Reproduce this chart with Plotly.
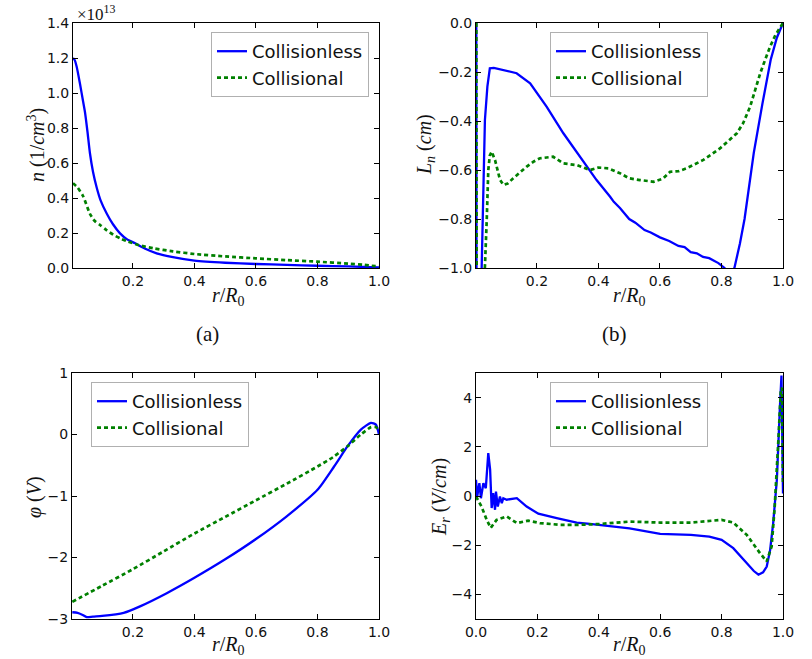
import plotly.graph_objects as go

W, H = 812, 659

# ---------------- data ----------------
# (a) density n (units of 1e13 1/cm^3)
a_x_less = [0.005, 0.01, 0.017, 0.028, 0.038, 0.044, 0.052, 0.060, 0.070, 0.082, 0.095, 0.115, 0.135,
            0.158, 0.18, 0.207, 0.24, 0.277, 0.33, 0.40, 0.5, 0.6, 0.7, 0.8, 0.9, 1.0]
a_y_less = [1.20, 1.19, 1.15, 1.05, 0.95, 0.89, 0.78, 0.657, 0.55, 0.46, 0.385, 0.31, 0.25,
            0.198, 0.165, 0.141, 0.11, 0.084, 0.062, 0.042, 0.03, 0.023, 0.018, 0.013, 0.009, 0.003]
a_x_col = [0.005, 0.02, 0.038, 0.06, 0.075, 0.093, 0.115, 0.136, 0.16, 0.185, 0.22, 0.265, 0.33,
           0.4, 0.5, 0.6, 0.7, 0.8, 0.9, 0.95, 1.0]
a_y_col = [0.484, 0.46, 0.41, 0.31, 0.27, 0.246, 0.215, 0.19, 0.168, 0.15, 0.13, 0.113, 0.095,
           0.08, 0.066, 0.055, 0.045, 0.036, 0.025, 0.018, 0.008]

# (b) L_n (cm)
b_x_less = [0.003, 0.005, 0.0205, 0.026, 0.031, 0.039, 0.047, 0.06, 0.091, 0.134, 0.178, 0.232, 0.286,
            0.34, 0.394, 0.438, 0.45, 0.47, 0.5, 0.52, 0.55, 0.57, 0.6, 0.63, 0.66, 0.68, 0.7, 0.72,
            0.74, 0.76, 0.79, 0.81, 0.825, 0.842, 0.86, 0.875, 0.89, 0.905, 0.933, 0.96, 0.98, 1.0]
b_y_less = [0.0, -3.0, -0.995, -0.668, -0.396, -0.26, -0.185, -0.183, -0.192, -0.205, -0.246, -0.342, -0.45,
            -0.546, -0.641, -0.709, -0.73, -0.755, -0.80, -0.815, -0.845, -0.855, -0.875, -0.89, -0.91, -0.915, -0.935, -0.94,
            -0.955, -0.96, -0.98, -1.0, -1.03, -1.0, -0.90, -0.80, -0.66, -0.53, -0.33, -0.15, -0.06, 0.0]
b_x_col = [0.003, 0.006, 0.028, 0.031, 0.037, 0.042, 0.047, 0.053, 0.064, 0.08, 0.091, 0.105, 0.123,
           0.145, 0.167, 0.19, 0.21, 0.253, 0.286, 0.33, 0.373, 0.4, 0.432, 0.47, 0.5, 0.535, 0.579,
           0.61, 0.633, 0.66, 0.687, 0.741, 0.795, 0.85, 0.87, 0.893, 0.91, 0.926, 0.942, 0.958, 0.975,
           0.991, 1.0]
b_y_col = [0.0, -3.0, -1.05, -0.995, -0.80, -0.6, -0.54, -0.525, -0.56, -0.64, -0.661, -0.655, -0.634,
           -0.61, -0.586, -0.565, -0.552, -0.546, -0.573, -0.58, -0.6, -0.59, -0.593, -0.613, -0.634, -0.641, -0.648,
           -0.635, -0.607, -0.605, -0.593, -0.559, -0.512, -0.45, -0.41, -0.342, -0.27, -0.205, -0.15, -0.097, -0.05,
           -0.015, 0.0]

# (c) potential phi (V)
c_x_less = [0.003, 0.02, 0.035, 0.05, 0.07, 0.1, 0.17, 0.225, 0.31, 0.4, 0.5, 0.6, 0.7, 0.8, 0.854,
            0.898, 0.941, 0.974, 0.99, 1.0]
c_y_less = [-2.89, -2.90, -2.93, -2.97, -2.96, -2.95, -2.90, -2.79, -2.58, -2.33, -2.03, -1.70, -1.33, -0.90, -0.52,
            -0.19, 0.08, 0.19, 0.16, 0.0]
c_x_col = [0.003, 0.1, 0.2, 0.3, 0.4, 0.5, 0.6, 0.7, 0.8, 0.85, 0.898, 0.941, 0.974, 0.99, 1.0]
c_y_col = [-2.72, -2.46, -2.19, -1.90, -1.61, -1.34, -1.07, -0.80, -0.52, -0.37, -0.19, 0.0, 0.12, 0.12, 0.05]

# (d) radial field E_r (V/cm)
d_x_less = [0.0, 0.004, 0.011, 0.016, 0.024, 0.032, 0.040, 0.046, 0.051, 0.056, 0.062, 0.065, 0.071, 0.078,
            0.084, 0.089, 0.1, 0.133, 0.165, 0.203, 0.263, 0.328, 0.371, 0.4, 0.5, 0.6, 0.7, 0.76, 0.8, 0.838,
            0.882, 0.905, 0.92, 0.935, 0.947, 0.958, 0.968, 0.98, 0.99, 0.995, 1.0]
d_y_less = [0.66, -0.02, 0.52, -0.09, 0.52, 0.32, 1.74, 1.07, -0.49, 0.12, -0.56, 0.18, -0.43, -0.02,
            -0.29, -0.09, -0.15, -0.09, -0.43, -0.72, -0.90, -1.08, -1.13, -1.17, -1.32, -1.54, -1.58, -1.65, -1.78, -2.12,
            -2.73, -3.05, -3.2, -3.1, -2.87, -2.2, -1.1, 0.66, 3.64, 4.9, 0.1]
d_x_col = [0.0, 0.018, 0.035, 0.048, 0.067, 0.085, 0.1, 0.133, 0.17, 0.208, 0.273, 0.338, 0.4, 0.5, 0.6,
           0.7, 0.76, 0.8, 0.838, 0.882, 0.925, 0.947, 0.963, 0.973, 0.985, 0.993, 0.997, 1.0]
d_y_col = [-0.02, -0.43, -0.97, -1.30, -0.97, -0.88, -0.83, -1.10, -1.0, -1.10, -1.17, -1.17, -1.14, -1.04, -1.08,
           -1.08, -1.0, -0.97, -1.08, -1.58, -2.32, -2.66, -2.05, -0.43, 2.28, 4.32, 4.4, 0.5]

names = ["Collisionless", "Collisional"]

# ---------------- layout helpers ----------------
BLUE = "#0000ff"
GREEN = "#008000"
TXT = "#111111"
TICKFONT = dict(family="DejaVu Sans", size=14, color=TXT)
SERIF = "Liberation Serif"

# panel pixel boxes: (left, right, top, bottom)
boxes = {
    1: (73, 379, 23, 268),
    2: (476, 783, 23, 268),
    3: (72, 379, 373, 619),
    4: (476, 783, 373, 619),
}

def dom(b):
    l, r, t, bt = b
    return [l / W, r / W], [1 - bt / H, 1 - t / H]

fig = go.Figure()

panels = [
    (1, a_x_less, a_y_less, a_x_col, a_y_col, "spline"),
    (2, b_x_less, b_y_less, b_x_col, b_y_col, "linear"),
    (3, c_x_less, c_y_less, c_x_col, c_y_col, "spline"),
    (4, d_x_less, d_y_less, d_x_col, d_y_col, "linear"),
]

for k, xl, yl, xc, yc, shp in panels:
    sfx = "" if k == 1 else str(k)
    leg = "legend" if k == 1 else "legend%d" % k
    fig.add_trace(go.Scatter(x=xl, y=yl, mode="lines", name=names[0],
                             line=dict(color=BLUE, width=2.3, shape=shp, smoothing=0.6),
                             xaxis="x" + sfx, yaxis="y" + sfx, legend=leg))
    fig.add_trace(go.Scatter(x=xc, y=yc, mode="lines", name=names[1],
                             line=dict(color=GREEN, width=2.7, dash="4px,3px", shape=shp, smoothing=0.6),
                             xaxis="x" + sfx, yaxis="y" + sfx, legend=leg))

xranges = {1: [0.005, 1.0], 2: [0.002, 1.0], 3: [0.002, 1.0], 4: [0.0, 1.0]}
yranges = {1: [0.0, 1.4], 2: [-1.0, 0.0], 3: [-3, 1], 4: [-5, 5]}
yticks = {1: [0, 0.2, 0.4, 0.6, 0.8, 1.0, 1.2, 1.4],
          2: [-1.0, -0.8, -0.6, -0.4, -0.2, 0.0],
          3: [-3, -2, -1, 0, 1],
          4: [-4, -2, 0, 2, 4]}
yfmt = {1: ".1f", 2: ".1f", 3: "d", 4: "d"}
xticks_abc = [0.2, 0.4, 0.6, 0.8, 1.0]
xticks_d = [0.0, 0.2, 0.4, 0.6, 0.8, 1.0]

layout = dict(width=W, height=H, margin=dict(l=0, r=0, t=0, b=0), autosize=False,
              paper_bgcolor="white", plot_bgcolor="white", showlegend=True)

common = dict(showline=True, linecolor="black", linewidth=1, mirror="allticks", ticks="inside",
              ticklen=5, tickwidth=1, tickcolor="black", showgrid=False, zeroline=False,
              tickfont=TICKFONT, automargin=False)

for k in range(1, 5):
    xd, yd = dom(boxes[k])
    sfx = "" if k == 1 else str(k)
    layout["xaxis" + sfx] = dict(domain=xd, range=xranges[k], anchor="y" + sfx,
                                 tickvals=xticks_d if k == 4 else xticks_abc, tickformat=".1f", **common)
    layout["yaxis" + sfx] = dict(domain=yd, range=yranges[k], anchor="x" + sfx,
                                 tickvals=yticks[k], tickformat=yfmt[k], **common)

# legends: (anchor x, top) pixel positions of legend boxes
legpos = {1: (369, 32, "right"), 2: (629, 32, "center"), 3: (170, 382, "center"), 4: (629, 382, "center")}
for k in range(1, 5):
    key = "legend" if k == 1 else "legend%d" % k
    px, py, xa = legpos[k]
    layout[key] = dict(x=px / W, y=1 - py / H, xref="paper", yref="paper", xanchor=xa, yanchor="top",
                       bgcolor="white", bordercolor="#b0b0b0", borderwidth=1,
                       font=dict(family="DejaVu Sans", size=18, color=TXT),
                       tracegroupgap=0, itemwidth=30)

fig.update_layout(**layout)

LBL = dict(family=SERIF, size=20, color=TXT)
ann = []
def a(x, y, text, angle=0, font=LBL, **kw):
    ann.append(dict(x=x / W, y=1 - y / H, xref="paper", yref="paper", text=text, showarrow=False,
                    textangle=angle, font=font, xanchor="center", yanchor="middle", **kw))

xlab = "<i>r</i>/<i>R</i><sub>0</sub>"
a(228, 297, xlab)
a(629, 297, xlab)
a(228, 645, xlab)
a(629, 645, xlab)
a(37, 145, "<i>n</i> (1/<i>cm</i><sup>3</sup>)", angle=-90)
a(426, 145, "<i>L<sub>n</sub></i> (<i>cm</i>)", angle=-90)
a(34, 497, "<i>φ</i> (<i>V</i>)", angle=-90)
a(440, 497, "<i>E<sub>r</sub></i> (<i>V</i>/<i>cm</i>)", angle=-90)
a(96, 13, "×10<sup>13</sup>", font=dict(family=SERIF, size=17, color=TXT))
a(207, 334, "(a)", font=dict(family=SERIF, size=21, color=TXT))
a(614, 334, "(b)", font=dict(family=SERIF, size=21, color=TXT))

fig.update_layout(annotations=ann)
fig.write_html("out.html", config={"displayModeBar": False},
               post_script="document.body.style.margin='0';document.body.style.overflow='hidden';")
